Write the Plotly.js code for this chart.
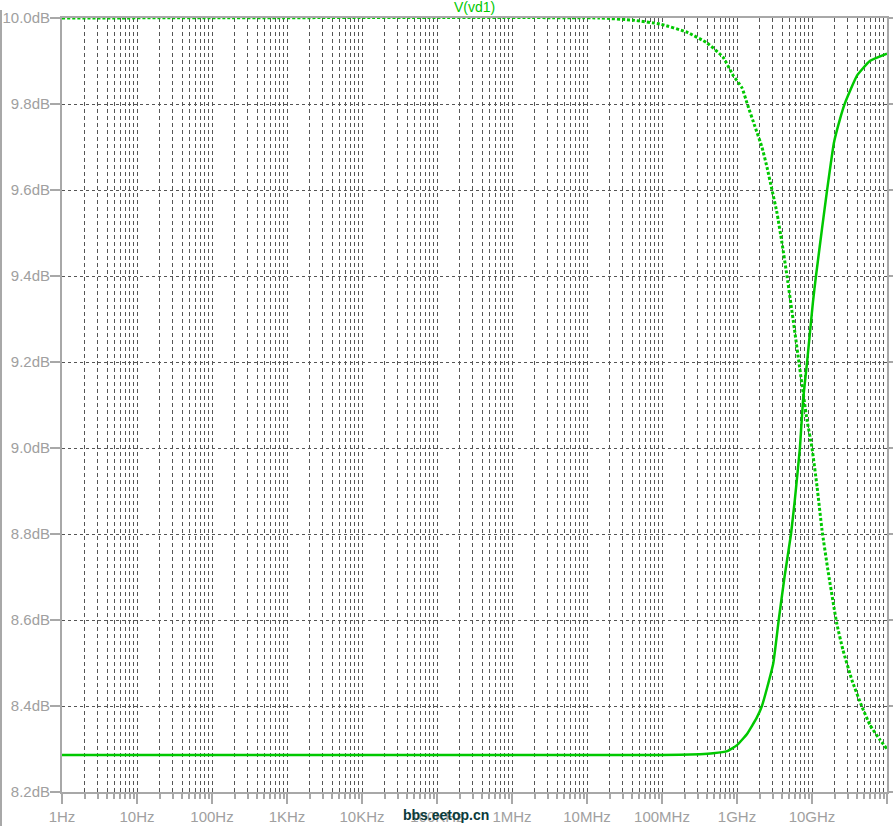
<!DOCTYPE html>
<html>
<head>
<meta charset="utf-8">
<script src="https://cdn.plot.ly/plotly-3.0.1.min.js"></script>
<style>html,body{margin:0;padding:0;background:#fff;}#chart{width:893px;height:826px;}</style>
</head>
<body>
<div id="chart"></div>
<script>
// Dotted trace (rolls off at high frequency)
const rollFreq = [1, 1.48e7, 4.1e7, 9.4e7, 2.15e8, 3.98e8, 6.5e8, 8.85e8, 1.17e9, 1.36e9, 1.74e9, 2.15e9, 2.51e9, 2.93e9, 3.41e9, 3.98e9, 4.64e9, 5.93e9, 6.71e9, 8.58e9, 1e10, 1.17e10, 1.36e10, 1.63e10, 1.96e10, 2.15e10, 2.59e10, 3.41e10, 4.64e10, 5.93e10, 8.07e10, 1e11];
const rollDb   = [10.0, 10.0, 9.995, 9.986, 9.967, 9.942, 9.909, 9.867, 9.837, 9.802, 9.747, 9.70, 9.653, 9.60, 9.547, 9.477, 9.40, 9.267, 9.198, 9.065, 9.0, 8.909, 8.809, 8.716, 8.630, 8.59, 8.53, 8.46, 8.398, 8.356, 8.321, 8.30];

// Solid trace (rises at high frequency)
const riseFreq = [1, 1e8, 3.2e8, 4.8e8, 7.4e8, 1e9, 1.36e9, 1.85e9, 2.15e9, 2.5e9, 3.05e9, 3.6e9, 4.3e9, 5.25e9, 5.9e9, 6.9e9, 7.6e9, 8.58e9, 1.03e10, 1.13e10, 1.36e10, 1.59e10, 1.96e10, 2.36e10, 2.75e10, 3.98e10, 5.9e10, 1e11];
const riseDb   = [8.286, 8.286, 8.288, 8.290, 8.295, 8.309, 8.335, 8.374, 8.40, 8.44, 8.50, 8.60, 8.70, 8.8, 8.879, 9.0, 9.112, 9.198, 9.34, 9.40, 9.51, 9.6, 9.71, 9.765, 9.802, 9.866, 9.90, 9.917];

const xTickVals = [1, 1e1, 1e2, 1e3, 1e4, 1e5, 1e6, 1e7, 1e8, 1e9, 1e10, 1e11];
const xTickText = ['1Hz', '10Hz', '100Hz', '1KHz', '10KHz', '100KHz', '1MHz', '10MHz', '100MHz', '1GHz', '10GHz', '100GHz'];
const yTickVals = [8.2, 8.4, 8.6, 8.8, 9.0, 9.2, 9.4, 9.6, 9.8, 10.0];
const yTickText = ['8.2dB', '8.4dB', '8.6dB', '8.8dB', '9.0dB', '9.2dB', '9.4dB', '9.6dB', '9.8dB', '10.0dB'];
const minorDigits = [2, 3, 4, 5, 6, 7, 8, 9];

const minorVals = [];
for (let d = 0; d < 11; d++) {
  for (const k of minorDigits) minorVals.push(k * Math.pow(10, d));
}

const green = '#00c800';
const axisGray = '#a8a8a8';
const gridGray = '#555555';
const labelFont = {family: 'Liberation Sans, Arial, sans-serif', size: 15, color: '#a0a0a0'};

const traces = [
  {x: rollFreq, y: rollDb, type: 'scatter', mode: 'lines',
   line: {color: green, width: 3, dash: '3px,2px', shape: 'spline', smoothing: 0.4}, hoverinfo: 'skip'},
  {x: riseFreq, y: riseDb, type: 'scatter', mode: 'lines',
   line: {color: green, width: 2.5, shape: 'spline', smoothing: 0.4}, hoverinfo: 'skip'}
];

const layout = {
  width: 893, height: 826,
  margin: {l: 62, r: 6, t: 18, b: 34, pad: 0},
  paper_bgcolor: '#ffffff', plot_bgcolor: '#ffffff',
  showlegend: false, hovermode: false,
  xaxis: {
    type: 'log', range: [0, 11],
    tickmode: 'array', tickvals: xTickVals, ticktext: xTickText,
    ticks: 'outside', ticklen: 10, tickwidth: 2, tickcolor: axisGray,
    tickfont: labelFont,
    showline: true, linecolor: axisGray, linewidth: 2, mirror: true,
    showgrid: true, gridcolor: gridGray, gridwidth: 1, griddash: '4px,3px',
    zeroline: false,
    minor: {tickmode: 'array', tickvals: minorVals, ticks: 'outside', ticklen: 5, tickwidth: 2, tickcolor: axisGray,
            showgrid: true, gridcolor: gridGray, gridwidth: 1, griddash: '4px,3px'}
  },
  yaxis: {
    range: [8.2, 10.0],
    tickmode: 'array', tickvals: yTickVals, ticktext: yTickText,
    ticks: 'outside', ticklen: 10, tickwidth: 2, tickcolor: axisGray,
    tickfont: labelFont, ticklabelstandoff: -3,
    showline: true, linecolor: axisGray, linewidth: 2, mirror: 'ticks',
    showgrid: true, gridcolor: gridGray, gridwidth: 1, griddash: '3px,3px',
    zeroline: false
  },
  annotations: [
    {text: 'V(vd1)', xref: 'paper', yref: 'paper', x: 0.5, y: 1 + 11/774, xanchor: 'center', yanchor: 'middle',
     showarrow: false, font: {family: 'Liberation Sans, Arial, sans-serif', size: 14, color: green}},
    {text: '<b>bbs.eetop.cn</b>', xref: 'paper', yref: 'paper', x: (446-62)/825, y: -(815-792)/774, xanchor: 'center', yanchor: 'middle',
     showarrow: false, font: {family: 'Liberation Sans, Arial, sans-serif', size: 14, color: '#0b3b3b'}}
  ],
  shapes: [
    {type: 'line', xref: 'paper', yref: 'paper', x0: (1-62)/825, x1: (1-62)/825, y0: -(826-792)/774, y1: 1 + 8/774,
     line: {color: axisGray, width: 2}}
  ]
};

Plotly.newPlot('chart', traces, layout, {staticPlot: true, displayModeBar: false});
</script>
</body>
</html>
